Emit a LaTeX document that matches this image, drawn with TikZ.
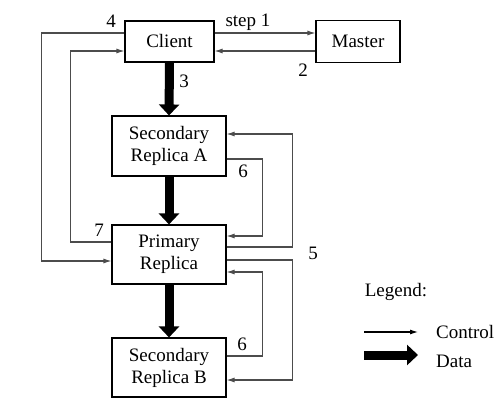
\documentclass[tikz,border=0pt]{standalone}
\usepackage{fontspec}
\setmainfont{Liberation Serif}
\usetikzlibrary{arrows.meta}
\begin{document}
\begin{tikzpicture}[x=1pt,y=-1pt,
  box/.style={draw=black,line width=1.1pt,align=center,inner sep=0pt},
  ctrl/.style={draw=black!70,line width=1.1pt,-{Latex[length=8pt,width=5pt]}},
  data/.style={draw=black,line width=9pt,-{Triangle[length=11pt,width=20pt]}},
  lbl/.style={inner sep=0pt,font=\fontsize{19}{22}\selectfont},
  every node/.append style={font=\fontsize{19}{22}\selectfont}]
\useasboundingbox (0,0) rectangle (504,412);
\node[box,minimum width=89pt,minimum height=41pt] (client) at (169.5,41.5) {Client};
\node[box,minimum width=84pt,minimum height=42pt] (master) at (358,41.5) {Master};
\node[box,minimum width=114pt,minimum height=60pt] (secA) at (169,146) {Secondary\\Replica A};
\node[box,minimum width=114pt,minimum height=59pt] (prim) at (169,254.5) {Primary\\Replica};
\node[box,minimum width=114pt,minimum height=59pt] (secB) at (169,367.5) {Secondary\\Replica B};
% control flows
\draw[ctrl] ([yshift=8.5pt]client.east) -- ([yshift=8.5pt]master.west);
\draw[ctrl] ([yshift=-9.5pt]master.west) -- ([yshift=-9.5pt]client.east);
\draw[ctrl] ([yshift=8.5pt]client.west) -- ++(-83,0) |- ([yshift=-6.5pt]prim.west);
\draw[ctrl] ([yshift=12.5pt]prim.west) -- ++(-41,0) |- ([yshift=-9.5pt]client.west);
\draw[ctrl] ([yshift=7.5pt]prim.east) -- ++(66,0) |- ([yshift=12pt]secA.east);
\draw[ctrl] ([yshift=-13pt]secA.east) -- ++(36,0) |- ([yshift=18.5pt]prim.east);
\draw[ctrl] ([yshift=-5.5pt]prim.east) -- ++(66,0) |- ([yshift=-12.5pt]secB.east);
\draw[ctrl] ([yshift=11.5pt]secB.east) -- ++(36,0) |- ([yshift=-17.5pt]prim.east);
% data flows
\draw[data] (client.south) -- (secA.north);
\draw[data] (secA.south) -- (prim.north);
\draw[data] (prim.south) -- (secB.north);
% labels
\node[lbl] (l1) at (248,22) {step 1};
\node[lbl] (l2) at (303,70) {2};
\node[lbl] (l3) at (184,81) {3};
\node[lbl] (l4) at (111,21) {4};
\node[lbl] (l7) at (99,230) {7};
\node[lbl] (l5) at (313,253) {5};
\node[lbl] (l6a) at (243,171) {6};
\node[lbl] (l6b) at (242,344) {6};
% legend
\node[lbl] (leg) at (396,292) {Legend:};
\coordinate (c1) at (364,332);
\coordinate (c2) at (418,332);
\coordinate (d1) at (364,355);
\coordinate (d2) at (418,355);
\draw[line width=1.1pt,-{Latex[length=8pt,width=5pt]}] (c1) -- (c2);
\draw[data] (d1) -- (d2);
\node[lbl,anchor=west] (ctl) at (436,332) {Control};
\node[lbl,anchor=west] (dat) at (436,361) {Data};
\end{tikzpicture}
\end{document}
